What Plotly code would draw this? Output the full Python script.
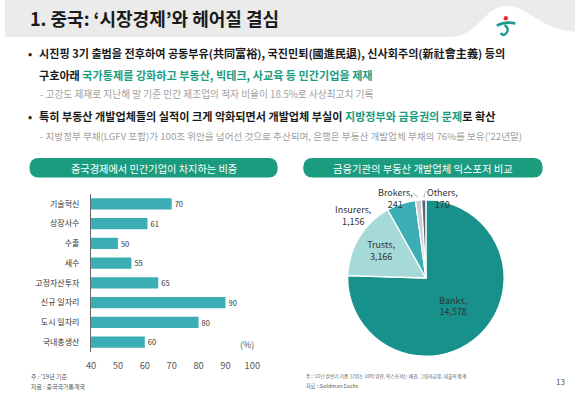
import plotly.graph_objects as go

W, H = 583, 399
FONT = "Noto Sans CJK KR"

# ---------------- data ----------------
bar_categories = ["기술혁신", "상장사수", "수출", "세수", "고정자산투자", "신규 일자리", "도시 일자리", "국내총생산"]
bar_values = [70, 61, 50, 55, 65, 90, 80, 60]
bar_ticks = [40, 50, 60, 70, 80, 90, 100]

pie_labels = ["Banks", "Trusts", "Insurers", "Brokers", "Others"]
pie_values = [14578, 3166, 1156, 241, 170]
pie_colors = ["#17918a", "#a6dad8", "#3aaeb4", "#c9ced6", "#5b6672"]
pie_inside = [True, True, False, False, False]

GREEN = "#1b9c7f"
BAR_COLOR = "#3aaeb4"


def px(x):
    return x / W


def py(y):
    return 1 - y / H


fig = go.Figure()

# ---------------- bar chart ----------------
fig.add_trace(go.Bar(
    x=bar_values, y=bar_categories, orientation="h",
    marker=dict(color=BAR_COLOR, line=dict(width=0)),
    width=0.56,
    text=[str(v) for v in bar_values], textposition="outside",
    textfont=dict(family=FONT, size=9.5, color="#333"),
    cliponaxis=False, hoverinfo="x+y", showlegend=False,
    xaxis="x", yaxis="y",
))

# ---------------- pie chart ----------------
fig.add_trace(go.Pie(
    labels=pie_labels, values=pie_values, sort=False,
    direction="clockwise", rotation=0,
    marker=dict(colors=pie_colors, line=dict(color="white", width=1.3)),
    texttemplate=["%{label},<br>%{value:,}" if inside else "" for inside in pie_inside],
    textposition="inside", insidetextorientation="horizontal",
    insidetextfont=dict(family=FONT, size=9, color="#333"),
    domain=dict(x=[px(350.5), px(510.5)], y=[py(358), py(198)]),
    showlegend=False,
))

shapes = []
annotations = []

# header band
shapes.append(dict(type="rect", xref="paper", yref="paper", x0=0, x1=1, y0=py(37), y1=1,
                   fillcolor="#ebebeb", line=dict(width=0), layer="below"))
# white hill behind logo
hill = (f"M {px(452)},{py(37.5)} C {px(485)},{py(37.5)} {px(490)},{py(6)} {px(512)},{py(6)} "
        f"C {px(535)},{py(6)} {px(548)},{py(30)} {px(583)},{py(32)} L {px(583)},{py(37.5)} Z")
shapes.append(dict(type="path", xref="paper", yref="paper", path=hill,
                   fillcolor="white", line=dict(width=0), layer="below"))
# logo (approximate)
shapes.append(dict(type="circle", xref="paper", yref="paper",
                   x0=px(510), x1=px(514.5), y0=py(20.5), y1=py(16),
                   fillcolor="#e0303a", line=dict(width=0)))
shapes.append(dict(type="path", xref="paper", yref="paper",
                   path=f"M {px(503)},{py(25.5)} Q {px(512)},{py(21)} {px(522)},{py(23.5)}",
                   line=dict(color="#1a9a8c", width=2.6)))
shapes.append(dict(type="path", xref="paper", yref="paper",
                   path=f"M {px(511)},{py(25)} Q {px(517)},{py(29)} {px(512)},{py(34)} Q {px(509)},{py(36)} {px(507)},{py(33)}",
                   line=dict(color="#1a9a8c", width=2.4)))


# pills
def pill(x0, x1, y0, y1):
    r = (y1 - y0) / 2
    return (f"M {px(x0 + r)},{py(y0)} L {px(x1 - r)},{py(y0)} "
            f"Q {px(x1)},{py(y0)} {px(x1)},{py(y0 + r)} Q {px(x1)},{py(y1)} {px(x1 - r)},{py(y1)} "
            f"L {px(x0 + r)},{py(y1)} Q {px(x0)},{py(y1)} {px(x0)},{py(y0 + r)} "
            f"Q {px(x0)},{py(y0)} {px(x0 + r)},{py(y0)} Z")


for (a, b) in [(25, 279), (305, 550)]:
    shapes.append(dict(type="path", xref="paper", yref="paper", path=pill(a, b, 158, 177.5),
                       fillcolor=GREEN, line=dict(width=0), layer="below"))


def ann(x, y, text, size, color="#222", xanchor="left", bold=False, **kw):
    if bold:
        text = f"<b>{text}</b>"
    d = dict(x=px(x), y=py(y), xref="paper", yref="paper", text=text, showarrow=False,
             xanchor=xanchor, yanchor="middle", font=dict(family=FONT, size=size, color=color))
    d.update(kw)
    annotations.append(d)


# title
ann(24, 18, "1. 중국: ‘시장경제’와 헤어질 결심", 18, "#1a1a1a", bold=True)

# bullets
g = lambda t: f"<span style='color:{GREEN}'>{t}</span>"
ann(26, 53, "•", 11, "#222", xanchor="center", bold=True)
ann(33, 53, "시진핑 3기 출범을 전후하여 공동부유(共同富裕), 국진민퇴(國進民退), 신사회주의(新社會主義) 등의", 11.1, "#1a1a1a", bold=True)
ann(33, 75, "구호아래 " + g("국가통제를 강화하고 부동산, 빅테크, 사교육 등 민간기업을 제재"), 11.1, "#1a1a1a", bold=True)
ann(34, 94.5, "- 고강도 제재로 지난해 말 기준 민간 제조업의 적자 비율이 18.5%로 사상최고치 기록", 9.7, "#a0a0a0")
ann(26, 116, "•", 11, "#222", xanchor="center", bold=True)
ann(33, 116, "특히 부동산 개발업체들의 실적이 크게 악화되면서 개발업체 부실이 " + g("지방정부와 금융권의 문제") + "로 확산", 11.1, "#1a1a1a", bold=True)
ann(34, 135.5, "- 지방정부 부채(LGFV 포함)가 100조 위안을 넘어선 것으로 추산되며, 은행은 부동산 개발업체 부채의 76%를 보유('22년말)", 9.6, "#a0a0a0")

# pill texts
ann(152, 168, "중국경제에서 민간기업이 차지하는 비중", 10.2, "white", xanchor="center")
ann(427.5, 168, "금융기관의 부동산 개발업체 익스포저 비교", 10.3, "white", xanchor="center")

# (%) label
ann(248, 344, "(%)", 9, "#555", xanchor="center")

# pie outside labels
outside_pos = {"Insurers": (356, 215.5), "Brokers": (399, 198), "Others": (447, 198)}
for lab, val, inside in zip(pie_labels, pie_values, pie_inside):
    if inside:
        continue
    x, y = outside_pos[lab]
    ann(x, y, f"{lab},<br>{val:,}", 9, "#333", xanchor="center")


# leader lines (pixel offsets from head)
def leader(hx, hy, tx, ty):
    annotations.append(dict(x=px(hx), y=py(hy), xref="paper", yref="paper",
                            ax=tx - hx, ay=ty - hy, text="", showarrow=True, arrowhead=0,
                            arrowwidth=0.8, arrowcolor="#999", standoff=0, startstandoff=0))


leader(422.5, 197.5, 416, 191.5)
leader(428.5, 197.5, 429.5, 192)
leader(429.5, 192, 433, 192)

# footnotes
ann(25, 376, "주 : '19년 기준", 6, "#555")
ann(25, 386, "자료 : 중국국가통계국", 6, "#555")
ann(306, 376, "주 : '22년 상반기 기준, 단위는 10억 위안, 익스포저는 채권, 그림자금융, 대출의 합계", 4.7, "#555")
ann(306, 386, "자료 : Goldman Sachs", 5.3, "#555")
ann(568, 381, "13", 8, "#555", xanchor="center")

fig.update_layout(
    width=W, height=H, margin=dict(l=0, r=0, t=0, b=0),
    paper_bgcolor="white", plot_bgcolor="rgba(0,0,0,0)",
    font=dict(family=FONT),
    xaxis=dict(domain=[px(88), px(253)], range=[40, 100], tickvals=bar_ticks,
               showgrid=False, zeroline=False, showline=False,
               ticks="outside", ticklen=5, tickcolor="rgba(0,0,0,0)",
               tickfont=dict(family=FONT, size=9.3, color="#555"), fixedrange=True),
    yaxis=dict(domain=[py(352), py(194)], autorange="reversed",
               categoryorder="array", categoryarray=bar_categories,
               showgrid=False, zeroline=False, showline=True, linecolor="#666", linewidth=1,
               ticks="outside", ticklen=9, tickcolor="rgba(0,0,0,0)",
               tickfont=dict(family=FONT, size=8, color="#333"), fixedrange=True),
    shapes=shapes, annotations=annotations,
    bargap=0.44,
)

fig.write_html("out.html", config={"displayModeBar": False},
               post_script="document.body.style.margin='0';")
